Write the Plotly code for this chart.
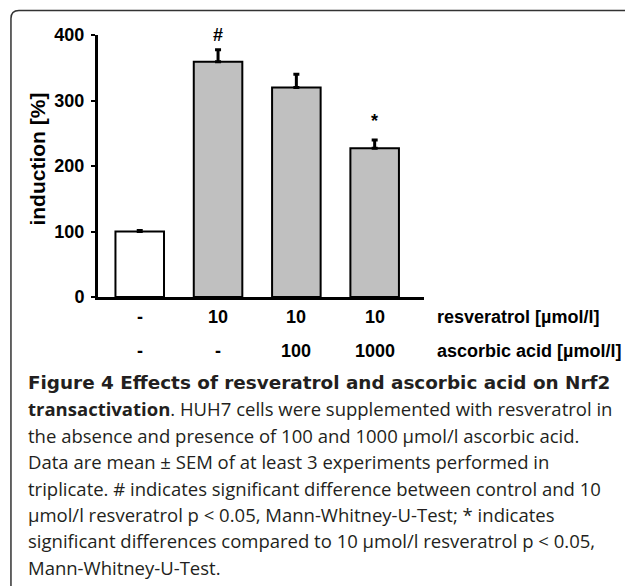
import plotly.graph_objects as go

# ---- data ----
categories = [0, 1, 2, 3]
induction = [100, 359, 320, 227]
sem = [1.5, 18.5, 20, 12.7]
bar_colors = ["#ffffff", "#c0c0c0", "#c0c0c0", "#c0c0c0"]
resveratrol_labels = ["-", "10", "10", "10"]
ascorbic_labels = ["-", "-", "100", "1000"]
significance = ["", "#", "", "*"]
sig_heights = [0, 400, 0, 268]
y_ticks = [0, 100, 200, 300, 400]
row_titles = ["resveratrol [µmol/l]", "ascorbic acid [µmol/l]"]
caption_lines = [
    "<b>Figure 4 Effects of resveratrol and ascorbic acid on Nrf2</b>",
    "<b>transactivation</b>. HUH7 cells were supplemented with resveratrol in",
    "the absence and presence of 100 and 1000 µmol/l ascorbic acid.",
    "Data are mean ± SEM of at least 3 experiments performed in",
    "triplicate. # indicates significant difference between control and 10",
    "µmol/l resveratrol p &lt; 0.05, Mann-Whitney-U-Test; * indicates",
    "significant differences compared to 10 µmol/l resveratrol p &lt; 0.05,",
    "Mann-Whitney-U-Test.",
]

W, H = 625, 586
PL, PR = 97.7, 424.3      # plot area left/right in px
PT, PB = 35.0, 296.7      # plot area top/bottom in px


def px_x(px):
    return (px - PL) / (PR - PL)


def px_y(py):
    return (PB - py) / (PB - PT)


AX_FONT = dict(family="Liberation Sans, Arial", size=18, color="#000000")
CAP_FONT = "Open Sans"

fig = go.Figure()
fig.add_trace(go.Bar(
    x=categories,
    y=induction,
    width=0.62,
    marker=dict(color=bar_colors, line=dict(color="#000000", width=2)),
    error_y=dict(type="data", array=sem, arrayminus=[0] * len(sem),
                 symmetric=False, color="#000000", thickness=3, width=3),
    showlegend=False,
    hoverinfo="skip",
))

fig.update_layout(
    width=W, height=H,
    margin=dict(l=PL, r=W - PR, t=PT, b=H - PB, pad=0),
    paper_bgcolor="#ffffff", plot_bgcolor="#ffffff",
    xaxis=dict(range=[-0.533, 3.63], showticklabels=False, ticks="",
               showgrid=False, zeroline=False, showline=True,
               linecolor="#000000", linewidth=3, fixedrange=True),
    yaxis=dict(range=[0, 400], tickvals=y_ticks, ticks="outside", ticklen=4,
               tickwidth=2, tickcolor="#000000", showgrid=False,
               zeroline=False, showline=True, linecolor="#000000",
               linewidth=3, tickfont=dict(AX_FONT, weight="bold"),
               ticklabelstandoff=3, fixedrange=True),
)

annotations = []
# y-axis title
annotations.append(dict(text="<b>induction [%]</b>", x=px_x(37), y=px_y(159),
                        xref="paper", yref="paper", showarrow=False,
                        textangle=-90, font=dict(AX_FONT, size=21),
                        xanchor="center", yanchor="middle"))
# category rows
for i, (r, a) in enumerate(zip(resveratrol_labels, ascorbic_labels)):
    annotations.append(dict(text="<b>%s</b>" % r, x=categories[i], y=px_y(316.7),
                            xref="x", yref="paper", showarrow=False, font=AX_FONT,
                            xanchor="center", yanchor="middle"))
    annotations.append(dict(text="<b>%s</b>" % a, x=categories[i], y=px_y(350.7),
                            xref="x", yref="paper", showarrow=False, font=AX_FONT,
                            xanchor="center", yanchor="middle"))
for k, t in enumerate(row_titles):
    annotations.append(dict(text="<b>%s</b>" % t, x=px_x(435),
                            y=px_y([316.7, 350.7][k]), xref="paper", yref="paper",
                            showarrow=False, font=AX_FONT,
                            xanchor="left", yanchor="middle"))
# significance markers
for i, s in enumerate(significance):
    if s:
        annotations.append(dict(text="<b>%s</b>" % s, x=categories[i], y=sig_heights[i],
                                xref="x", yref="y", showarrow=False, font=AX_FONT,
                                xanchor="center", yanchor="middle"))
# caption
for k, line in enumerate(caption_lines):
    if k == 0:
        f = dict(family="DejaVu Sans", size=18.4, color="#231f20")
    else:
        f = dict(family=CAP_FONT, size=18.5, color="#231f20")
    annotations.append(dict(text=line, x=px_x(26), y=px_y(382 + 26.4 * k),
                            xref="paper", yref="paper", showarrow=False,
                            font=f, xanchor="left", yanchor="middle", align="left"))
fig.update_layout(annotations=annotations)

# rounded frame (top and left edges)
r = 8
path = "M %f,%f L %f,%f Q %f,%f %f,%f L %f,%f" % (
    px_x(10.5), px_y(H + 5), px_x(10.5), px_y(10.5 + r),
    px_x(10.5), px_y(10.5), px_x(10.5 + r), px_y(10.5),
    px_x(W + 5), px_y(10.5))
fig.add_shape(type="path", path=path, xref="paper", yref="paper",
              line=dict(color="#333333", width=1.5))

fig.write_html("out.html",
               config={"displayModeBar": False},
               post_script="document.body.style.margin='0';"
                           "document.body.style.overflow='hidden';")
